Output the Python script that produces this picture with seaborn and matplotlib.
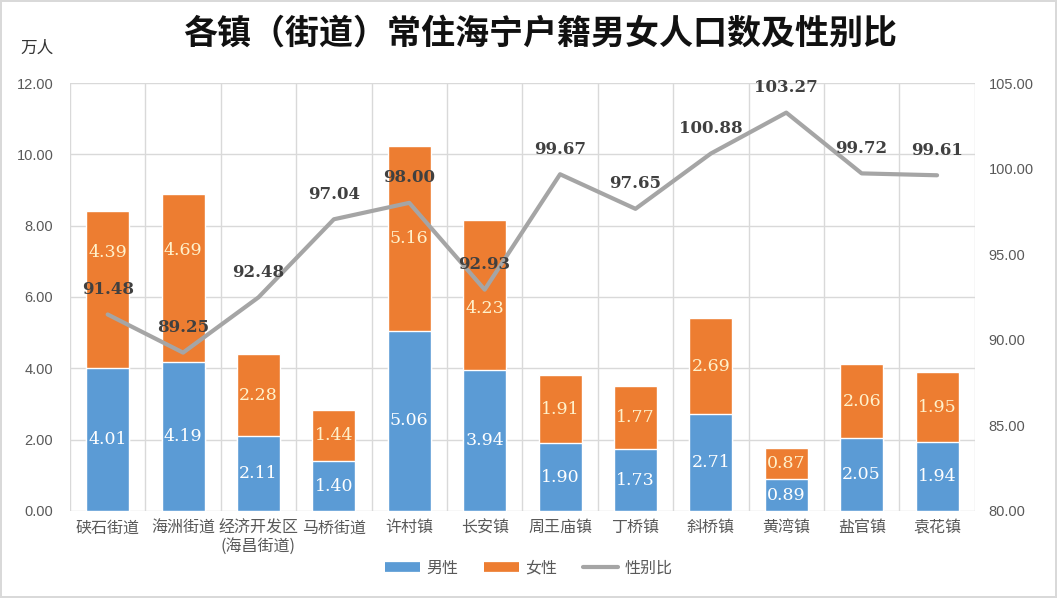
import matplotlib
matplotlib.use("Agg")
import matplotlib.pyplot as plt
from matplotlib.lines import Line2D
from matplotlib.ticker import FormatStrFormatter, MultipleLocator
import seaborn as sns
import pandas as pd
import numpy as np

categories = ["硖石街道", "海洲街道", "经济开发区\n(海昌街道)", "马桥街道", "许村镇", "长安镇",
              "周王庙镇", "丁桥镇", "斜桥镇", "黄湾镇", "盐官镇", "袁花镇"]
male = [4.01, 4.19, 2.11, 1.40, 5.06, 3.94, 1.90, 1.73, 2.71, 0.89, 2.05, 1.94]
female = [4.39, 4.69, 2.28, 1.44, 5.16, 4.23, 1.91, 1.77, 2.69, 0.87, 2.06, 1.95]
ratio = [91.48, 89.25, 92.48, 97.04, 98.00, 92.93, 99.67, 97.65, 100.88, 103.27, 99.72, 99.61]

sns.set_theme(style="white")
plt.rcParams['font.family'] = ['Noto Sans CJK SC', 'DejaVu Sans']

BLUE = "#5B9BD5"
ORANGE = "#ED7D31"
GREY = "#A5A5A5"
TXT = "#595959"
SERIF = ["DejaVu Serif", "Liberation Serif"]

df = pd.DataFrame({"cat": categories, "male": male, "female": female, "ratio": ratio})
df["total"] = df["male"] + df["female"]
df["pos"] = np.arange(len(df))

fig = plt.figure(figsize=(10.57, 5.98), dpi=100)
fig.patch.set_edgecolor("#D9D9D9")
fig.patch.set_linewidth(1.5)
ax = fig.add_axes([0.0662, 0.1455, 0.856, 0.7157])

sns.barplot(data=df, x="cat", y="total", color=ORANGE, saturation=1, width=0.57, ax=ax, zorder=2)
sns.barplot(data=df, x="cat", y="male", color=BLUE, saturation=1, width=0.57, ax=ax, zorder=3)

ax.set_ylim(0, 12)
ax.set_xlim(-0.5, len(df) - 0.5)
ax.yaxis.set_major_locator(MultipleLocator(2))
ax.yaxis.set_major_formatter(FormatStrFormatter("%.2f"))
ax.set_xlabel("")
ax.set_ylabel("")
for s in ax.spines.values():
    s.set_visible(False)
ax.grid(axis="y", color="#D9D9D9", linewidth=1, zorder=0)
for b in np.arange(-0.5, len(df), 1.0):
    ax.axvline(b, color="#D9D9D9", linewidth=1, zorder=0)
ax.set_axisbelow(True)
ax.tick_params(axis="y", labelsize=10.5, labelcolor=TXT, length=0, pad=12)
ax.tick_params(axis="x", labelsize=11.5, labelcolor=TXT, length=0, pad=6)
for t in ax.get_yticklabels():
    t.set_family(["Liberation Sans", "DejaVu Sans"])

# bar labels
female_offsets = [27, 20, 0, 0, 0, -10, 0, 0, 0, 0, 0, 0]
for i in range(len(df)):
    ax.text(i, male[i] / 2, f"{male[i]:.2f}", ha="center", va="center", color="white",
            fontsize=12.5, family=SERIF, zorder=5)
    ax.annotate(f"{female[i]:.2f}", (i, male[i] + female[i] / 2), xytext=(0, female_offsets[i]),
                textcoords="offset points", ha="center", va="center", color="#FFF2CC",
                fontsize=12.5, family=SERIF, zorder=5)

ax2 = ax.twinx()
sns.lineplot(data=df, x="pos", y="ratio", color=GREY, linewidth=3, ax=ax2, zorder=4)
ax2.set_ylim(80, 105)
ax2.yaxis.set_major_locator(MultipleLocator(5))
ax2.yaxis.set_major_formatter(FormatStrFormatter("%.2f"))
ax2.set_ylabel("")
ax2.set_xlabel("")
for s in ax2.spines.values():
    s.set_visible(False)
ax2.tick_params(axis="y", labelsize=10.5, labelcolor=TXT, length=0, pad=10)
for t in ax2.get_yticklabels():
    t.set_family(["Liberation Sans", "DejaVu Sans"])
ax2.set_xlim(-0.5, len(df) - 0.5)
for i, r in enumerate(ratio):
    ax2.annotate(f"{r:.2f}", (i, r), xytext=(0, 18), textcoords="offset points",
                 ha="center", va="center", color="#404040", fontsize=12, fontweight="bold",
                 family=SERIF, zorder=6)

fig.text(0.511, 0.945, "各镇（街道）常住海宁户籍男女人口数及性别比", ha="center", va="center",
         fontsize=24.5, fontweight="bold", color="#111111")
fig.text(0.035, 0.92, "万人", ha="center", va="center", fontsize=12, color="#333333")

handles = [Line2D([], [], color=BLUE, linewidth=7, solid_capstyle="butt"),
           Line2D([], [], color=ORANGE, linewidth=7, solid_capstyle="butt"),
           Line2D([], [], color=GREY, linewidth=3)]
fig.legend(handles, ["男性", "女性", "性别比"], loc="center", bbox_to_anchor=(0.5, 0.05),
           ncol=3, frameon=False, fontsize=11.5, handlelength=2.2, columnspacing=1.6,
           handletextpad=0.4, labelcolor=TXT)

fig.savefig("out.png", dpi=100)
